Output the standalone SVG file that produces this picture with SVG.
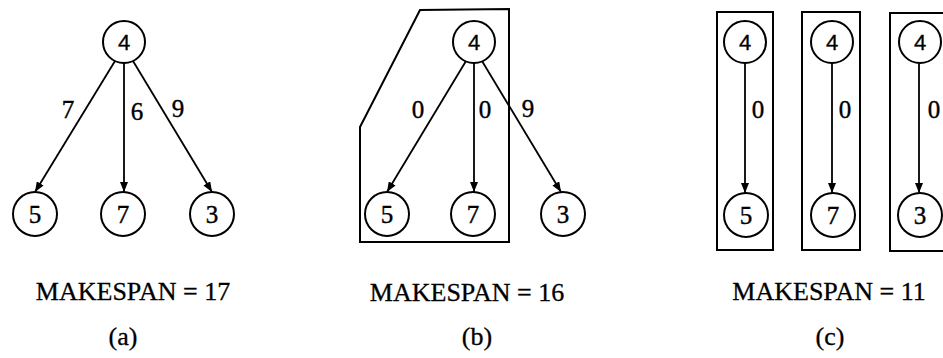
<svg xmlns="http://www.w3.org/2000/svg" width="943" height="358" viewBox="0 0 943 358">
<style>
.n{fill:#fff;stroke:#000;stroke-width:2}
.t{font-family:"Liberation Serif","Times New Roman",serif;font-size:25px;text-anchor:middle;fill:#000;stroke:#000;stroke-width:0.4}
.s{font-family:"Liberation Sans",Arial,sans-serif;font-size:22px;text-anchor:middle;fill:#000;stroke:#000;stroke-width:0.3}
.e{stroke:#000;stroke-width:1.8;fill:none;marker-end:url(#ah)}
.b{stroke:#000;stroke-width:2;fill:none}
.cap{font-family:"Liberation Serif","Times New Roman",serif;font-size:26px;text-anchor:middle;fill:#000;stroke:#000;stroke-width:0.3}
</style>
<defs>
<marker id="ah" markerUnits="userSpaceOnUse" markerWidth="10" markerHeight="8" refX="10" refY="4" orient="auto">
<path d="M0,0 L10,4 L0,8 Z" fill="#000"/>
</marker>
</defs>
<rect width="943" height="358" fill="#fff"/>
<g id="clusters">
<polygon class="b" points="420,10 509,9 509,242 360,242 360,127"/>
<rect class="b" x="717" y="12" width="56" height="238"/>
<rect class="b" x="802" y="12" width="58" height="238"/>
<polyline class="b" points="945,13 890,13 890,251 945,251"/>
</g>
<g id="connectors">
<line class="e" x1="115" y1="61" x2="35" y2="192"/>
<line class="e" x1="124" y1="63" x2="124" y2="192"/>
<line class="e" x1="133" y1="61" x2="212" y2="192"/>
<line class="e" x1="466" y1="61" x2="387" y2="192"/>
<line class="e" x1="474" y1="63" x2="474" y2="192"/>
<line class="e" x1="482" y1="61" x2="561" y2="192"/>
<line class="e" x1="745" y1="63" x2="745" y2="193"/>
<line class="e" x1="832" y1="63" x2="832" y2="193"/>
<line class="e" x1="919" y1="63" x2="919" y2="193"/>
</g>
<g id="edge-labels">
<text class="t" x="68" y="118">7</text>
<text class="t" x="137" y="120">6</text>
<text class="t" x="178" y="117">9</text>
<text class="t" x="418" y="118">0</text>
<text class="t" x="485" y="118">0</text>
<text class="t" x="528" y="117">9</text>
<text class="t" x="758" y="118">0</text>
<text class="t" x="845" y="118">0</text>
<text class="t" x="934" y="118">0</text>
</g>
<g id="a4"><circle class="n" cx="124" cy="42" r="21"/><text class="s" x="124" y="50">4</text></g>
<g id="a5"><circle class="n" cx="35" cy="214" r="22"/><text class="t" x="35" y="223">5</text></g>
<g id="a7"><circle class="n" cx="123" cy="214" r="22"/><text class="t" x="123" y="223">7</text></g>
<g id="a3"><circle class="n" cx="212" cy="214" r="22"/><text class="t" x="212" y="223">3</text></g>
<g id="b4"><circle class="n" cx="474" cy="42" r="21"/><text class="s" x="474" y="50">4</text></g>
<g id="b5"><circle class="n" cx="387" cy="214" r="22"/><text class="t" x="387" y="223">5</text></g>
<g id="b7"><circle class="n" cx="473" cy="214" r="22"/><text class="t" x="473" y="223">7</text></g>
<g id="b3"><circle class="n" cx="563" cy="214" r="22"/><text class="t" x="563" y="223">3</text></g>
<g id="c4a"><circle class="n" cx="745" cy="42" r="21"/><text class="s" x="745" y="50">4</text></g>
<g id="c5"><circle class="n" cx="746" cy="215" r="22"/><text class="t" x="746" y="224">5</text></g>
<g id="c4b"><circle class="n" cx="832" cy="42" r="21"/><text class="s" x="832" y="50">4</text></g>
<g id="c7"><circle class="n" cx="833" cy="215" r="22"/><text class="t" x="833" y="224">7</text></g>
<g id="c4c"><circle class="n" cx="920" cy="42" r="21"/><text class="s" x="920" y="50">4</text></g>
<g id="c3"><circle class="n" cx="920" cy="215" r="22"/><text class="t" x="920" y="224">3</text></g>
<g id="captions">
<text class="cap" x="133" y="300">MAKESPAN = 17</text>
<text class="cap" x="467" y="301">MAKESPAN = 16</text>
<text class="cap" x="829" y="300">MAKESPAN = 11</text>
<text class="cap" x="123" y="345">(a)</text>
<text class="cap" x="477" y="345">(b)</text>
<text class="cap" x="830" y="345">(c)</text>
</g>
</svg>
